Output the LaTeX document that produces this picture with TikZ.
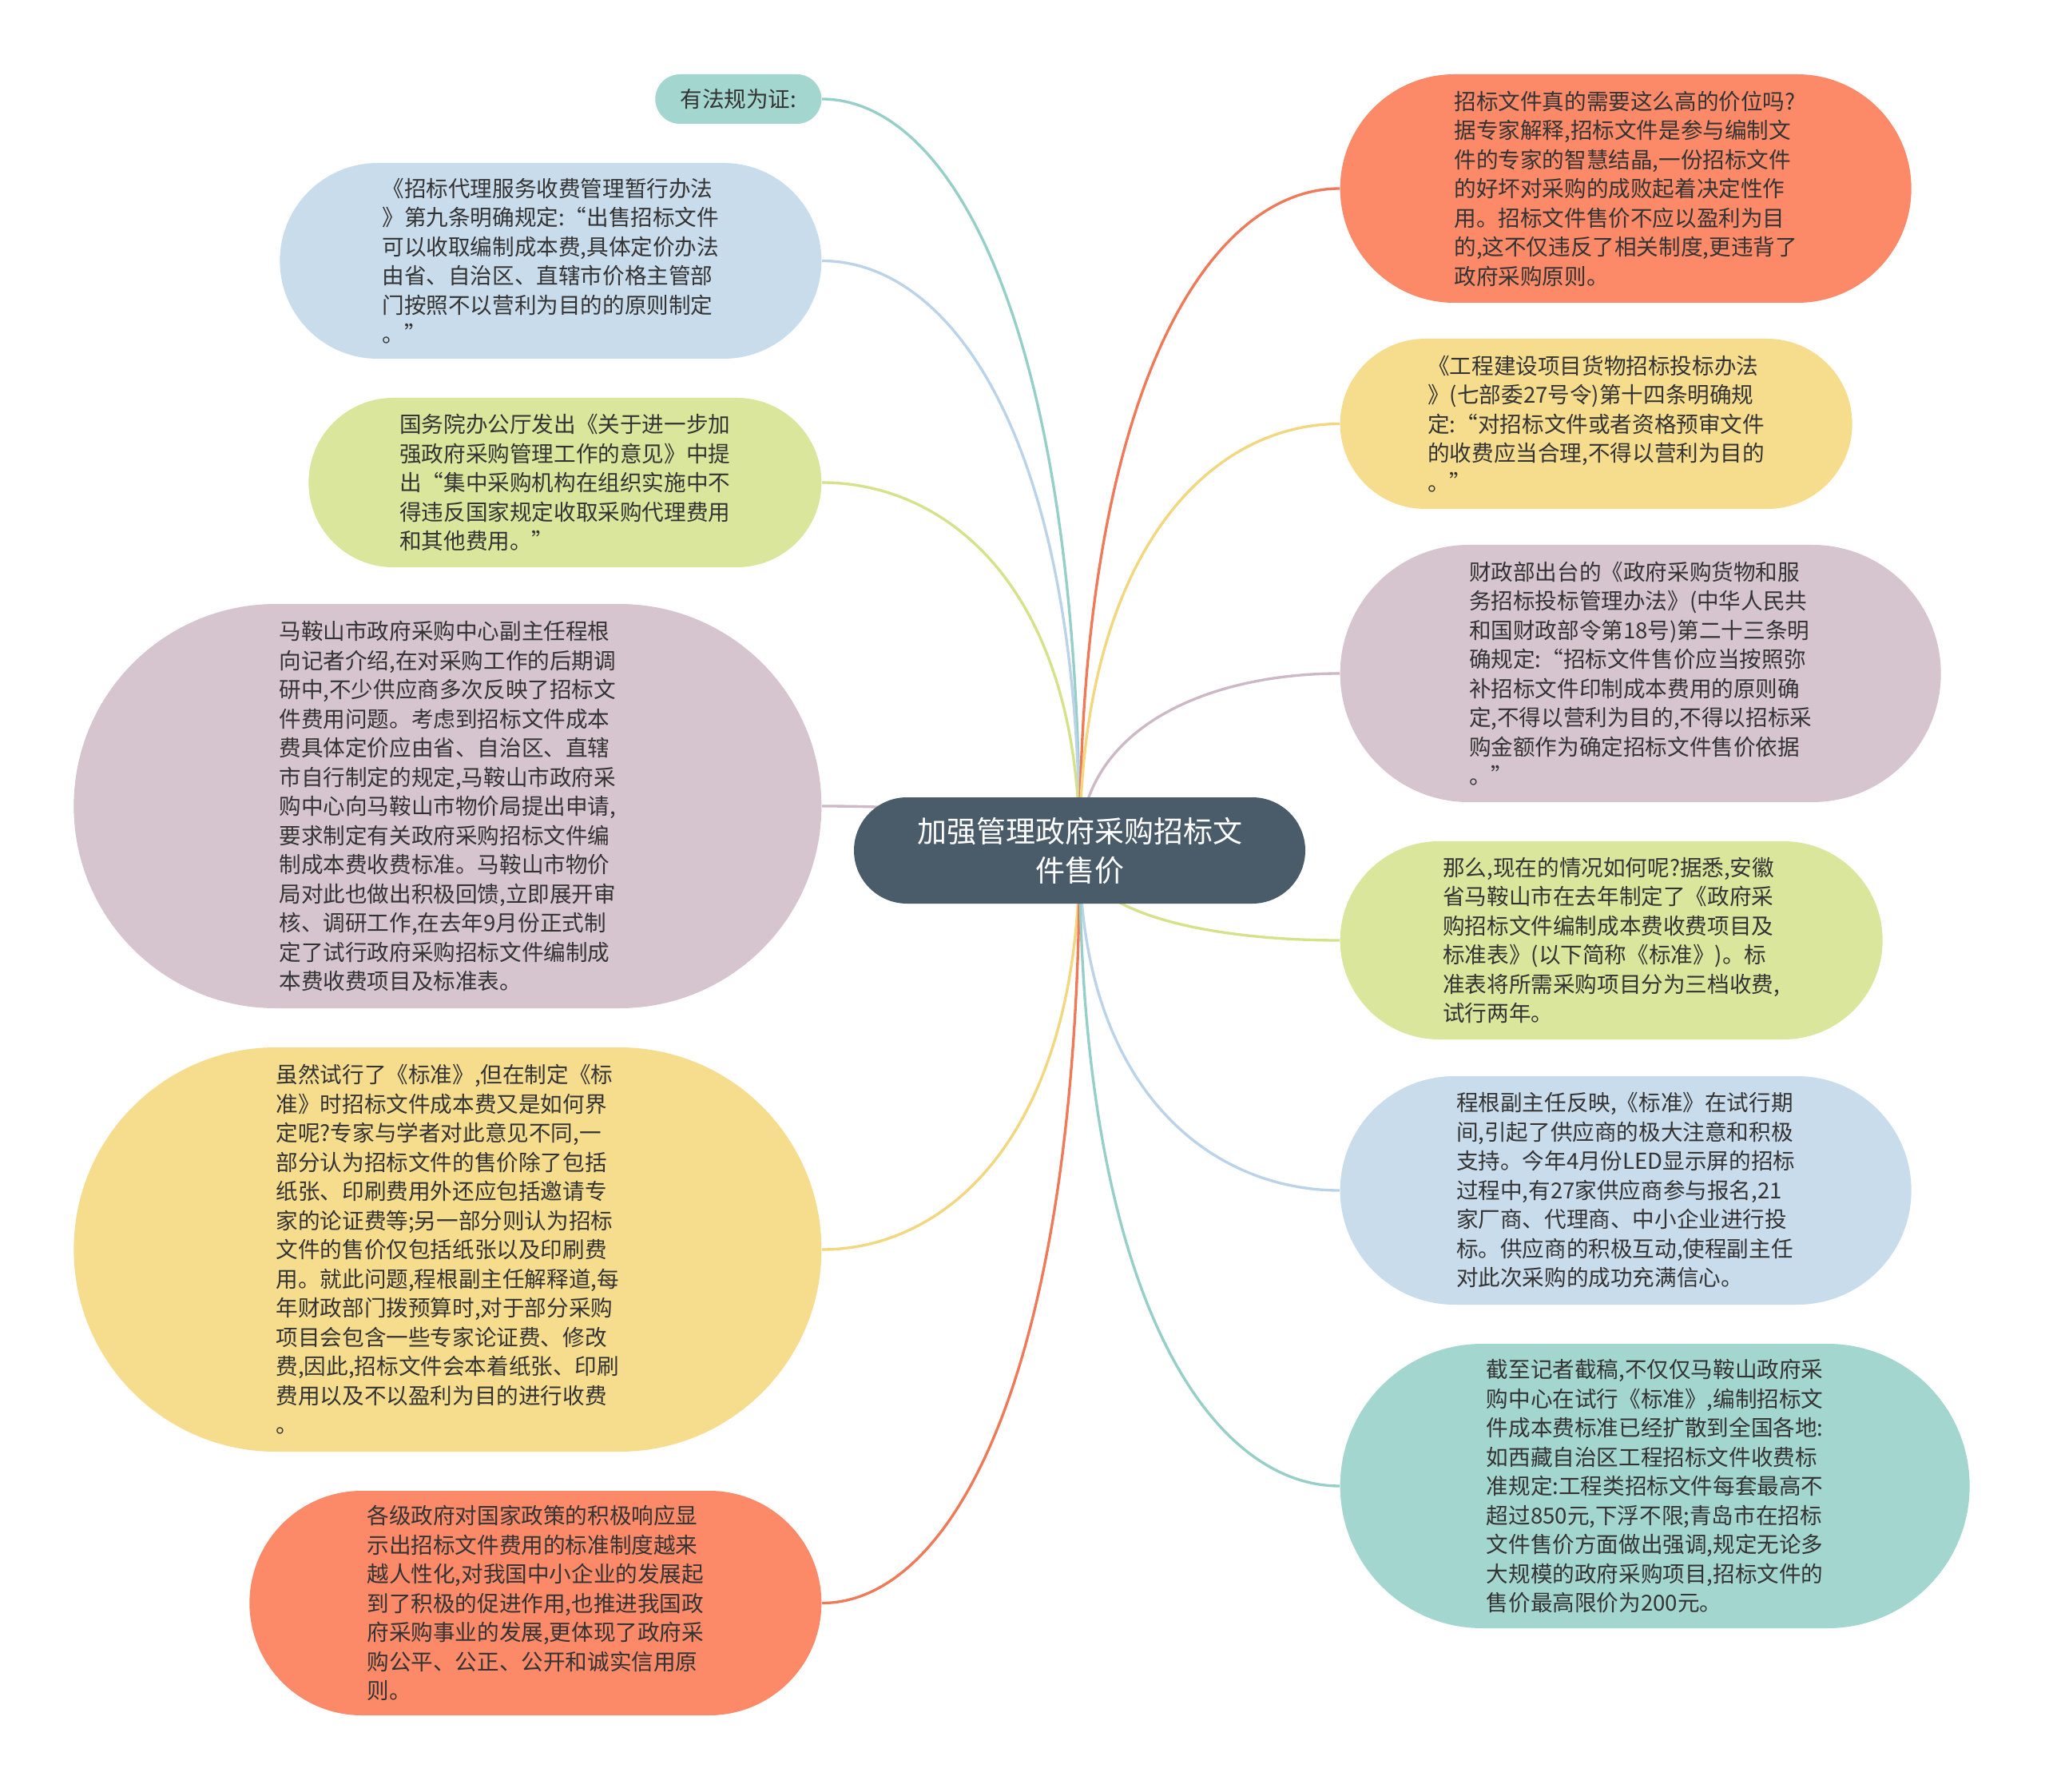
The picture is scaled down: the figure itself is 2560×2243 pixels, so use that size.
\documentclass[tikz,border=0pt]{standalone}
\usepackage{fontspec}
\setmainfont{Noto Sans CJK SC}
\usetikzlibrary{shapes.misc,calc,backgrounds}
\definecolor{tealF}{HTML}{A4D6D0}\definecolor{tealL}{HTML}{96CFC8}
\definecolor{blueF}{HTML}{C9DCEC}\definecolor{blueL}{HTML}{BBD3E8}
\definecolor{greenF}{HTML}{D9E69C}\definecolor{greenL}{HTML}{D5E28A}
\definecolor{mauveF}{HTML}{D6C4CF}\definecolor{mauveL}{HTML}{CDB8C5}
\definecolor{yellowF}{HTML}{F6DD8E}\definecolor{yellowL}{HTML}{F2D77F}
\definecolor{orangeF}{HTML}{FC8A69}\definecolor{orangeL}{HTML}{EF7A5A}
\definecolor{centerF}{HTML}{4A5B6A}
\definecolor{txt}{HTML}{333333}
\newcommand\leaffont{\fontsize{8.28pt}{10.95pt}\selectfont}
\newcommand\rootfont{\fontsize{11.1pt}{14.7pt}\selectfont}
\newcommand\linkL[2]{\draw[conn,#2] (#1.east) .. controls ($(#1.east)!0.5!(#1.east -| C.center)$) and ($(C.center |- #1.east)!0.3!(C.center)$) .. (C.center);}
\newcommand\linkR[2]{\draw[conn,#2] (#1.west) .. controls ($(#1.west)!0.5!(#1.west -| C.center)$) and ($(C.center |- #1.west)!0.3!(C.center)$) .. (C.center);}
\tikzset{
  leaf/.style={rounded rectangle, inner sep=0pt, align=left, font=\leaffont, text=txt},
  lleaf/.style={leaf, anchor=east},
  rleaf/.style={leaf, anchor=west},
  conn/.style={line width=1pt},
}
\begin{document}
\begin{tikzpicture}[x=0.3pt,y=-0.3pt]
\useasboundingbox (0,0) rectangle (2560,2243);
% root
\node[rounded rectangle, fill=centerF, text=white, font=\rootfont, align=center,
  minimum width=169.5pt, minimum height=39.9pt, inner sep=0pt] (C) at (1351.5,1064.5)
  {加强管理政府采购招标文\\件售价};
% left
\node[lleaf, fill=tealF, minimum width=62.4pt, minimum height=18.6pt] (L1) at (1029,124) {有法规为证:};
\node[lleaf, fill=blueF, minimum width=203.4pt, minimum height=73.5pt] (L2) at (1029,326.5)
{《招标代理服务收费管理暂行办法\\》第九条明确规定:“出售招标文件\\可以收取编制成本费,具体定价办法\\由省、自治区、直辖市价格主管部\\门按照不以营利为目的的原则制定\\。”};
\node[lleaf, fill=greenF, minimum width=192.6pt, minimum height=63.6pt] (L3) at (1029,604)
{国务院办公厅发出《关于进一步加\\强政府采购管理工作的意见》中提\\出“集中采购机构在组织实施中不\\得违反国家规定收取采购代理费用\\和其他费用。”};
\node[lleaf, fill=mauveF, minimum width=280.8pt, minimum height=151.8pt] (L4) at (1029,1009)
{马鞍山市政府采购中心副主任程根\\向记者介绍,在对采购工作的后期调\\研中,不少供应商多次反映了招标文\\件费用问题。考虑到招标文件成本\\费具体定价应由省、自治区、直辖\\市自行制定的规定,马鞍山市政府采\\购中心向马鞍山市物价局提出申请,\\要求制定有关政府采购招标文件编\\制成本费收费标准。马鞍山市物价\\局对此也做出积极回馈,立即展开审\\核、调研工作,在去年9月份正式制\\定了试行政府采购招标文件编制成\\本费收费项目及标准表。};
\node[lleaf, fill=yellowF, minimum width=280.8pt, minimum height=151.8pt] (L5) at (1029,1564)
{虽然试行了《标准》,但在制定《标\\准》时招标文件成本费又是如何界\\定呢?专家与学者对此意见不同,一\\部分认为招标文件的售价除了包括\\纸张、印刷费用外还应包括邀请专\\家的论证费等;另一部分则认为招标\\文件的售价仅包括纸张以及印刷费\\用。就此问题,程根副主任解释道,每\\年财政部门拨预算时,对于部分采购\\项目会包含一些专家论证费、修改\\费,因此,招标文件会本着纸张、印刷\\费用以及不以盈利为目的进行收费\\。};
\node[lleaf, fill=orangeF, minimum width=214.8pt, minimum height=84.3pt] (L6) at (1029,2006.5)
{各级政府对国家政策的积极响应显\\示出招标文件费用的标准制度越来\\越人性化,对我国中小企业的发展起\\到了积极的促进作用,也推进我国政\\府采购事业的发展,更体现了政府采\\购公平、公正、公开和诚实信用原\\则。};
% right
\node[rleaf, fill=orangeF, minimum width=214.5pt, minimum height=85.8pt] (R1) at (1677,236)
{招标文件真的需要这么高的价位吗?\\据专家解释,招标文件是参与编制文\\件的专家的智慧结晶,一份招标文件\\的好坏对采购的成败起着决定性作\\用。招标文件售价不应以盈利为目\\的,这不仅违反了相关制度,更违背了\\政府采购原则。};
\node[rleaf, fill=yellowF, minimum width=192.3pt, minimum height=63.9pt] (R2) at (1677,530.5)
{《工程建设项目货物招标投标办法\\》(七部委27号令)第十四条明确规\\定:“对招标文件或者资格预审文件\\的收费应当合理,不得以营利为目的\\。”};
\node[rleaf, fill=mauveF, minimum width=225.6pt, minimum height=96.6pt] (R3) at (1677,843)
{财政部出台的《政府采购货物和服\\务招标投标管理办法》(中华人民共\\和国财政部令第18号)第二十三条明\\确规定:“招标文件售价应当按照弥\\补招标文件印制成本费用的原则确\\定,不得以营利为目的,不得以招标采\\购金额作为确定招标文件售价依据\\。”};
\node[rleaf, fill=greenF, minimum width=203.7pt, minimum height=74.4pt] (R4) at (1677,1177)
{那么,现在的情况如何呢?据悉,安徽\\省马鞍山市在去年制定了《政府采\\购招标文件编制成本费收费项目及\\标准表》(以下简称《标准》)。标\\准表将所需采购项目分为三档收费,\\试行两年。};
\node[rleaf, fill=blueF, minimum width=214.5pt, minimum height=85.8pt] (R5) at (1677,1490)
{程根副主任反映,《标准》在试行期\\间,引起了供应商的极大注意和积极\\支持。今年4月份LED显示屏的招标\\过程中,有27家供应商参与报名,21\\家厂商、代理商、中小企业进行投\\标。供应商的积极互动,使程副主任\\对此次采购的成功充满信心。};
\node[rleaf, fill=tealF, minimum width=236.4pt, minimum height=106.8pt] (R6) at (1677,1860)
{截至记者截稿,不仅仅马鞍山政府采\\购中心在试行《标准》,编制招标文\\件成本费标准已经扩散到全国各地:\\如西藏自治区工程招标文件收费标\\准规定:工程类招标文件每套最高不\\超过850元,下浮不限;青岛市在招标\\文件售价方面做出强调,规定无论多\\大规模的政府采购项目,招标文件的\\售价最高限价为200元。};
\begin{pgfonlayer}{background}
\fill[white] (0,0) rectangle (2560,2243);
\linkL{L1}{tealL}
\linkL{L2}{blueL}
\linkL{L3}{greenL}
\linkL{L4}{mauveL}
\linkL{L5}{yellowL}
\linkL{L6}{orangeL}
\linkR{R1}{orangeL}
\linkR{R2}{yellowL}
\linkR{R3}{mauveL}
\linkR{R4}{greenL}
\linkR{R5}{blueL}
\linkR{R6}{tealL}
\end{pgfonlayer}
\end{tikzpicture}
\end{document}
